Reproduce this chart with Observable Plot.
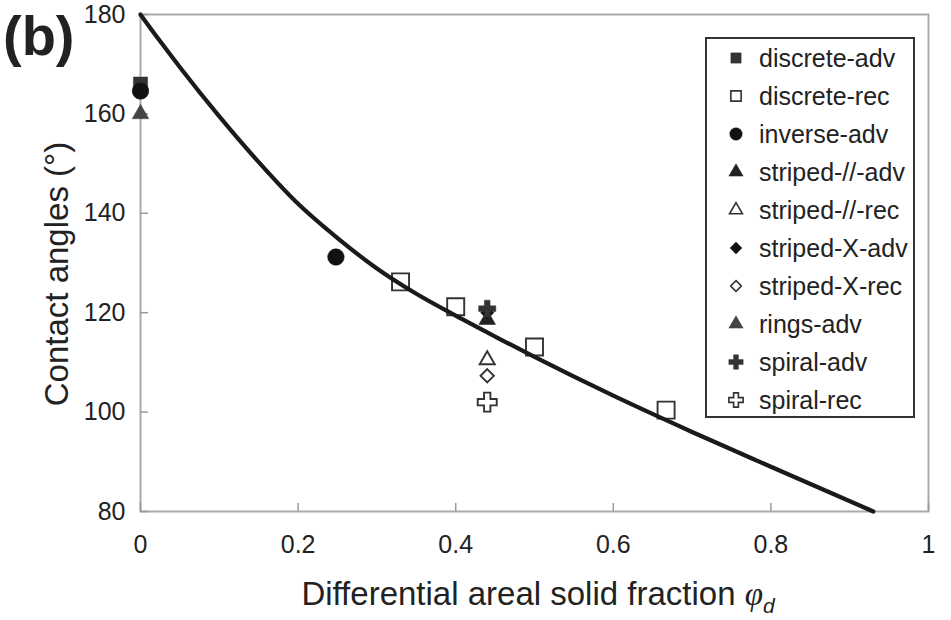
<!DOCTYPE html>
<html>
<head>
<meta charset="utf-8">
<script src="https://cdn.jsdelivr.net/npm/d3@7"></script>
<script src="https://cdn.jsdelivr.net/npm/@observablehq/plot@0.6"></script>
<style>
  html, body { margin: 0; padding: 0; background: #fff; }
  #wrap { position: relative; width: 951px; height: 620px; font-family: "Liberation Sans", Arial, sans-serif; color: #222; }
  #wrap svg { display: block; }
  .ov { position: absolute; white-space: nowrap; }
  #legend { position: absolute; left: 705px; top: 37px; width: 210px; height: 381px; box-sizing: border-box; border: 2px solid #333; background: #fff; }
  .row { display: flex; align-items: center; height: 38px; font-size: 25px; color: #222; }
  .row svg { flex: none; }
</style>
</head>
<body>
<div id="wrap"></div>
<script>
// ---- data ----
const xTicks = [0, 0.2, 0.4, 0.6, 0.8, 1];
const yTicks = [80, 100, 120, 140, 160, 180];
const xTitle = "Differential areal solid fraction";
const yTitle = "Contact angles (°)";
const panelLabel = "(b)";

// model curve
const curvePhi   = [0, 0.025, 0.05, 0.1, 0.15, 0.2, 0.25, 0.3, 0.35, 0.4, 0.45, 0.5, 0.6, 0.7, 0.8, 0.93];
const curveTheta = [180, 174.6, 169.4, 159.5, 150.3, 141.9, 135.0, 128.9, 123.8, 119.4, 115.2, 111.1, 103.3, 96.0, 89.0, 80];

const seriesNames = ["discrete-adv", "discrete-rec", "inverse-adv", "striped-//-adv", "striped-//-rec",
                     "striped-X-adv", "striped-X-rec", "rings-adv", "spiral-adv", "spiral-rec"];
const seriesPhi = [
  [0],
  [0.33, 0.40, 0.50, 0.667],
  [0, 0.248],
  [0.44],
  [0.44],
  [0.44],
  [0.44],
  [0],
  [0.44],
  [0.44]
];
const seriesTheta = [
  [166],
  [126.2, 121.2, 113.1, 100.4],
  [164.6, 131.2],
  [118.6],
  [110.5],
  [120],
  [107.3],
  [160],
  [120.8],
  [102]
];

// ---- styles (kept apart from the data) ----
const styles = {
  "discrete-adv":   {symbol: "square",   filled: true,  color: "#333", r: 8,   lr: 5.8},
  "discrete-rec":   {symbol: "square",   filled: false, color: "#333", r: 9.6, lr: 5.8},
  "inverse-adv":    {symbol: "circle",   filled: true,  color: "#111", r: 8.3, lr: 6.2},
  "striped-//-adv": {symbol: "triangle", filled: true,  color: "#222", r: 6.2, lr: 5.3},
  "striped-//-rec": {symbol: "triangle", filled: false, color: "#333", r: 5.6, lr: 4.8},
  "striped-X-adv":  {symbol: "diamond2", filled: true,  color: "#111", r: 6,   lr: 5.3},
  "striped-X-rec":  {symbol: "diamond2", filled: false, color: "#333", r: 6,   lr: 4.8},
  "rings-adv":      {symbol: "triangle", filled: true,  color: "#444", r: 6.2, lr: 5.3},
  "spiral-adv":     {symbol: "cross",    filled: true,  color: "#333", r: 7.2, lr: 6},
  "spiral-rec":     {symbol: "cross",    filled: false, color: "#333", r: 8,   lr: 6}
};

const curve = curvePhi.map((p, i) => ({phi: p, theta: curveTheta[i]}));
const dotMarks = seriesNames.map((name, k) => {
  const s = styles[name];
  const rows = seriesPhi[k].map((p, i) => ({phi: p, theta: seriesTheta[k][i], series: name}));
  return Plot.dot(rows, {
    x: "phi", y: "theta", symbol: s.symbol, r: s.r,
    fill: s.filled ? s.color : "none",
    stroke: s.color, strokeWidth: s.filled ? 0.5 : 1.9
  });
});

const chart = Plot.plot({
  width: 951,
  height: 620,
  marginTop: 14,
  marginBottom: 109,
  marginLeft: 140,
  marginRight: 23,
  style: {fontFamily: "'Liberation Sans', Arial, sans-serif", color: "#222", background: "#fff"},
  x: {domain: [0, 1]},
  y: {domain: [80, 180]},
  marks: [
    Plot.frame({stroke: "#aaa", strokeWidth: 2}),
    Plot.axisX(xTicks, {tickSize: -8, tickFormat: () => "", label: null, stroke: "#999", strokeWidth: 1.5}),
    Plot.axisY(yTicks, {tickSize: -8, tickFormat: () => "", label: null, stroke: "#999", strokeWidth: 1.5}),
    Plot.axisX(xTicks, {tickSize: 0, tickPadding: 24, tickFormat: d => String(d), label: null, fontSize: 25, fill: "#222"}),
    Plot.axisY(yTicks, {tickSize: 0, tickPadding: 15, tickFormat: d => String(d), label: null, fontSize: 25, fill: "#222"}),
    ...dotMarks,
    Plot.line(curve, {x: "phi", y: "theta", curve: "monotone-x", stroke: "#1a1a1a", strokeWidth: 4.2})
  ]
});

const wrap = document.getElementById("wrap");
wrap.appendChild(chart);

// panel label
const pl = document.createElement("div");
pl.className = "ov";
pl.style.cssText = "left:3px;top:8px;font-size:56px;line-height:1;font-weight:bold;color:#222;";
pl.textContent = panelLabel;
wrap.appendChild(pl);

// x title
const xt = document.createElement("div");
xt.className = "ov";
xt.style.cssText = "left:538px;top:575px;transform:translateX(-50%);font-size:33px;color:#222;";
xt.innerHTML = xTitle + " <i style=\"font-family:'Liberation Serif',serif\">φ</i><sub style=\"font-size:21px\"><i>d</i></sub>";
wrap.appendChild(xt);

// y title
const yt = document.createElement("div");
yt.className = "ov";
yt.style.cssText = "left:57px;top:274px;transform:translate(-50%,-50%) rotate(-90deg);font-size:33px;color:#222;";
yt.textContent = yTitle;
wrap.appendChild(yt);

// legend
const legend = document.createElement("div");
legend.id = "legend";
seriesNames.forEach(name => {
  const s = styles[name];
  const row = document.createElement("div");
  row.className = "row";
  const sym = {square: d3.symbolSquare, circle: d3.symbolCircle, triangle: d3.symbolTriangle,
               diamond2: d3.symbolDiamond2, cross: d3.symbolCross}[s.symbol];
  const svg = d3.create("svg").attr("width", 52).attr("height", 38);
  svg.append("path")
    .attr("transform", "translate(29,19)")
    .attr("d", d3.symbol(sym, Math.PI * s.lr * s.lr)())
    .attr("fill", s.filled ? s.color : "#fff")
    .attr("stroke", s.color)
    .attr("stroke-width", s.filled ? 0.5 : 1.6);
  row.appendChild(svg.node());
  const t = document.createElement("span");
  t.textContent = name;
  row.appendChild(t);
  legend.appendChild(row);
});
wrap.appendChild(legend);
</script>
</body>
</html>
